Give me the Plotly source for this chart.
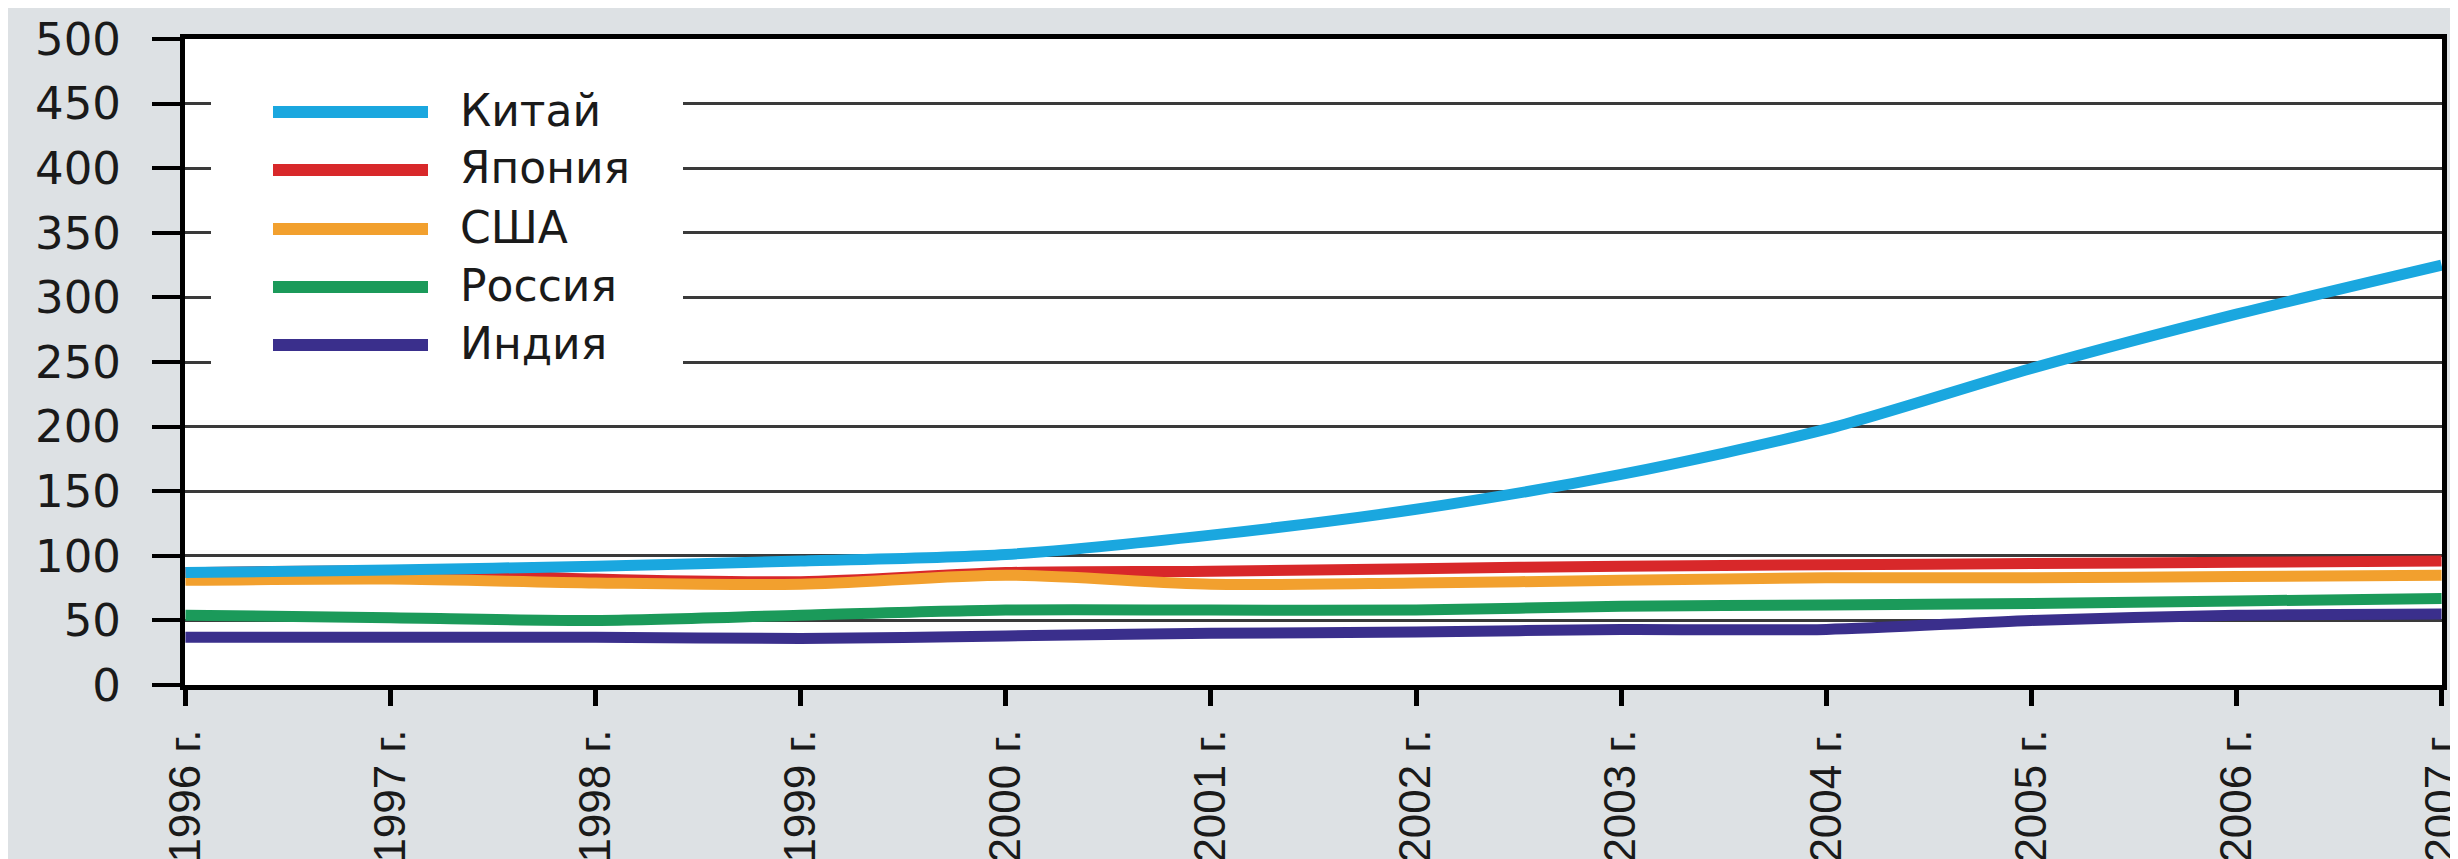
import plotly.graph_objects as go

years = [1996, 1997, 1998, 1999, 2000, 2001, 2002, 2003, 2004, 2005, 2006, 2007]
year_labels = [f"{y} г." for y in years]

china = [87, 89, 92, 96, 101, 116, 136, 163, 198, 245, 287, 325]
japan = [87, 88, 82, 80, 87, 88, 90, 92, 93, 94, 95, 96]
usa = [81, 82, 79, 78, 85, 78, 79, 81, 83, 83, 84, 85]
russia = [54, 52, 50, 54, 58, 58, 58, 61, 62, 63, 65, 67]
india = [37, 37, 37, 36, 38, 40, 41, 43, 43, 50, 54, 55]

series_names = ["Китай", "Япония", "США", "Россия", "Индия"]
series_values = [china, japan, usa, russia, india]
series_colors = ["#1aa7df", "#d8282a", "#f2a02e", "#1b9a5a", "#3a2f8c"]

y_ticks = [0, 50, 100, 150, 200, 250, 300, 350, 400, 450, 500]

W, H = 2458, 859
L, R, T, B = 177, 24, 31, 182
pw, ph = W - L - R, H - T - B

fig = go.Figure()

# draw order: Japan, USA, Russia, India, China on top
order = [1, 2, 3, 4, 0]
for i in order:
    fig.add_trace(go.Scatter(
        x=years, y=series_values[i], name=series_names[i], mode="lines",
        line=dict(color=series_colors[i], width=11, shape="spline", smoothing=0.8),
        showlegend=False, hoverinfo="skip"))

def px_to_paper_x(px):
    return (px - L) / pw

def px_to_paper_y(py):
    return (H - B - py) / ph

shapes = []
annotations = []
# legend background covering gridlines
shapes.append(dict(type="rect", xref="paper", yref="paper",
                   x0=px_to_paper_x(203), x1=px_to_paper_x(675),
                   y0=px_to_paper_y(392), y1=px_to_paper_y(58),
                   fillcolor="white", line=dict(width=0), layer="above"))
legend_y = [104, 162, 221, 279, 337]
for name, color, ly in zip(series_names, series_colors, legend_y):
    shapes.append(dict(type="line", xref="paper", yref="paper",
                       x0=px_to_paper_x(265), x1=px_to_paper_x(420),
                       y0=px_to_paper_y(ly), y1=px_to_paper_y(ly),
                       line=dict(color=color, width=12), layer="above"))
    annotations.append(dict(xref="paper", yref="paper", x=px_to_paper_x(450),
                            y=px_to_paper_y(ly - 2), text=name, showarrow=False,
                            xanchor="left", yanchor="middle",
                            font=dict(family="DejaVu Sans", size=44, color="#1a1a1a")))

eps = 0.002
fig.update_layout(
    width=W, height=H,
    margin=dict(l=L, r=R, t=T, b=B, pad=0, autoexpand=False),
    paper_bgcolor="#dde1e4",
    plot_bgcolor="white",
    shapes=shapes,
    annotations=annotations,
    xaxis=dict(
        range=[years[0] - eps, years[-1] + eps], tickmode="array", tickvals=years, ticktext=year_labels,
        tickangle=-90, showgrid=False, zeroline=False, automargin=False,
        showline=True, linecolor="black", linewidth=5, mirror=True,
        ticks="outside", ticklen=16, tickwidth=5, tickcolor="black",
        ticklabelstandoff=6,
        tickfont=dict(family="Liberation Sans Narrow, Liberation Sans, Arial", size=44, color="#1a1a1a"),
    ),
    yaxis=dict(
        range=[0, 500], tickmode="array", tickvals=y_ticks,
        showgrid=True, gridcolor="#3a3a3a", gridwidth=2.5, zeroline=False, automargin=False,
        showline=True, linecolor="black", linewidth=5, mirror=True,
        ticks="outside", ticklen=28, tickwidth=4, tickcolor="black",
        ticklabelstandoff=22,
        tickfont=dict(family="DejaVu Sans", size=45, color="#1a1a1a"),
    ),
)

fig.write_html("out.html")
